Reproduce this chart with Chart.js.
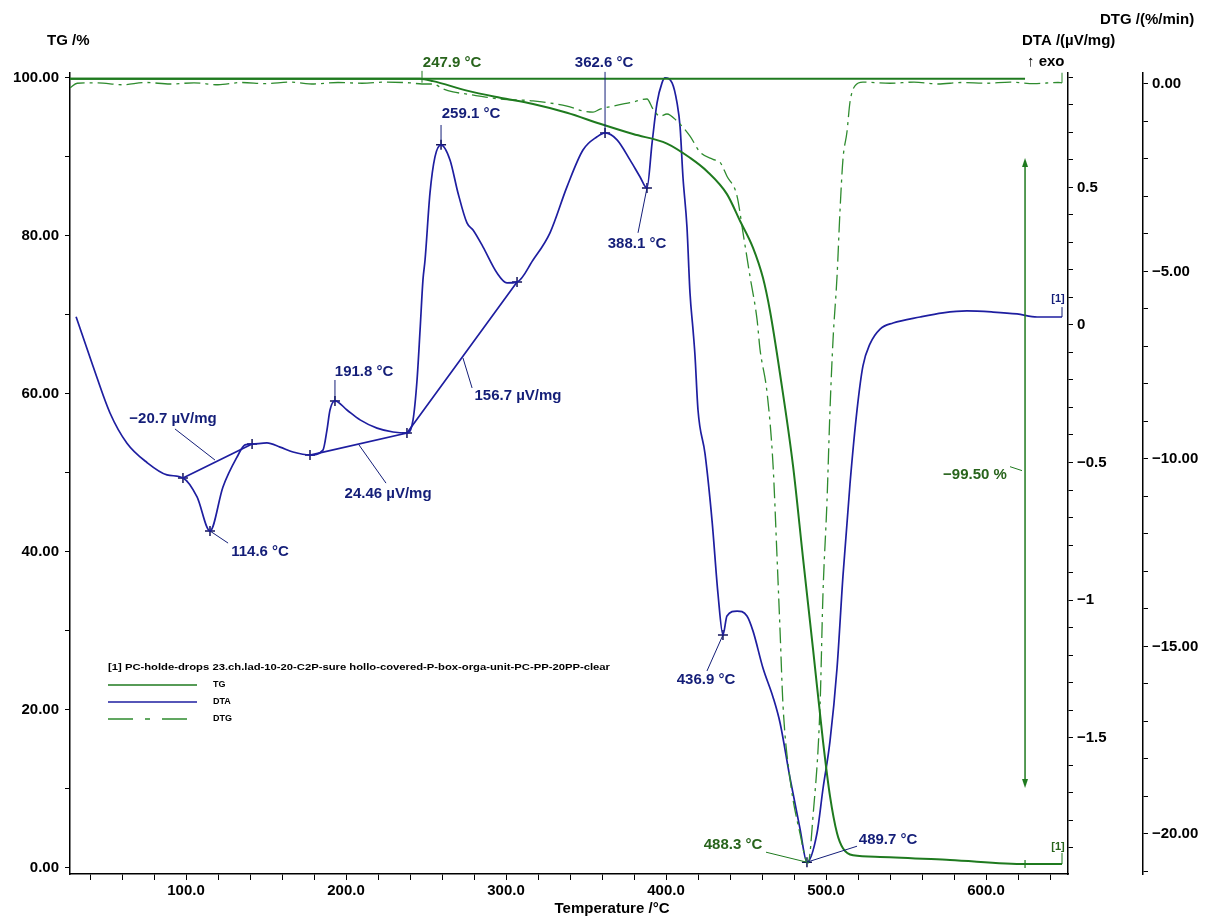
<!DOCTYPE html>
<html><head><meta charset="utf-8">
<script src="https://cdn.jsdelivr.net/npm/chart.js@4.4.1/dist/chart.umd.min.js"></script>
<style>html,body{margin:0;padding:0;background:#fff;}#wrap{width:1205px;height:919px;}</style>
</head><body><div id="wrap"><canvas id="c" width="1205" height="919"></canvas></div>
<script>
// ---------- data ----------
const tempTG = [27.5,246.3,254.4,275.6,296.3,316.9,338.1,358.8,379.4,400.6,415.0,425.6,438.1,446.3,454.4,460.6,465.0,471.3,479.4,485.6,491.9,498.1,502.5,506.9,510.6,516.9,533.8,577.5,625.0,647.5];
const massTG = [99.9,99.9,99.6,98.4,97.5,96.7,95.6,94.2,92.9,91.7,89.9,88.2,85.3,81.9,78.5,74.7,70.5,62.5,50.9,39.3,27.7,16.1,9.1,4.4,2.5,1.6,1.4,1.0,0.5,0.5];

const tempDTA = [31.3,41.9,52.5,63.1,75.6,88.1,98.1,106.9,115.0,123.1,131.9,136.9,141.3,150.6,158.8,166.9,177.5,185.6,188.1,190.0,193.1,200.6,208.8,219.4,229.4,238.1,241.9,244.4,246.3,248.1,249.4,252.5,255.6,259.4,265.0,270.0,275.6,279.4,285.6,294.4,300.6,306.9,316.9,327.5,338.1,348.1,356.9,361.9,369.4,377.5,383.8,388.1,391.3,394.4,397.5,399.4,403.8,406.9,408.8,410.6,413.1,415.0,416.9,418.1,420.0,424.4,428.8,432.5,435.6,438.1,444.4,450.6,454.4,460.6,466.9,471.3,477.5,483.8,488.1,494.4,498.1,502.5,506.9,510.6,515.0,519.4,523.1,527.5,533.8,541.9,558.8,573.1,588.1,604.4,619.4,631.9,641.9,647.5];
const heatDTA = [0.03,-0.15,-0.32,-0.43,-0.50,-0.545,-0.556,-0.625,-0.749,-0.589,-0.48,-0.436,-0.433,-0.429,-0.444,-0.462,-0.473,-0.455,-0.382,-0.309,-0.276,-0.309,-0.345,-0.375,-0.389,-0.393,-0.345,-0.20,-0.018,0.164,0.236,0.48,0.611,0.655,0.60,0.48,0.371,0.345,0.284,0.189,0.153,0.156,0.236,0.335,0.502,0.636,0.684,0.698,0.673,0.60,0.538,0.498,0.662,0.807,0.88,0.898,0.88,0.807,0.72,0.538,0.356,0.116,-0.018,-0.109,-0.309,-0.469,-0.713,-0.978,-1.127,-1.058,-1.04,-1.058,-1.113,-1.247,-1.353,-1.447,-1.647,-1.833,-1.953,-1.847,-1.687,-1.513,-1.247,-0.913,-0.578,-0.309,-0.149,-0.069,-0.015,0.007,0.029,0.044,0.051,0.047,0.04,0.029,0.029,0.029];

const tempDTG = [27.5,32,45,60,75,90,105,120,135,150,165,180,195,210,225,240,247.5,254.4,260.6,266.9,275.6,296.3,316.9,338.1,348.1,354.4,358.8,366.9,379.4,388.1,391.9,396.3,400.6,406.9,415.0,421.3,429.4,433.8,438.1,444.4,448.1,452.5,456.9,458.8,463.1,466.9,469.4,471.3,473.1,477.5,483.8,488.8,491.9,496.3,498.1,500.6,502.5,504.4,506.9,508.8,510.6,513.1,515.0,518.1,523.1,540,555,570,585,600,615,630,645,647.5];
const rateDTG = [-0.1,0.02,0.03,-0.02,0.04,0.0,0.03,-0.02,0.04,0.01,0.05,0.0,0.04,0.02,0.05,0.03,0.0,0.0,-0.13,-0.21,-0.27,-0.40,-0.45,-0.59,-0.72,-0.75,-0.67,-0.59,-0.48,-0.40,-0.67,-0.86,-0.80,-0.99,-1.39,-1.82,-2.01,-2.09,-2.46,-2.99,-3.96,-5.13,-6.28,-7.09,-8.21,-10.16,-12.62,-14.60,-16.55,-18.53,-20.0,-20.78,-19.52,-16.55,-13.61,-11.15,-8.69,-6.82,-5.13,-3.34,-2.01,-1.28,-0.48,-0.05,0.05,0.02,0.05,0.0,0.04,0.02,0.05,0.01,0.04,0.03];

// DTA construction baselines and peak markers
const baseT = [98.1,141.3,160,177.5,238.1,306.9];
const baseV = [-0.556,-0.433,null,-0.473,-0.393,0.156];
const markT = [98.1,115.0,141.3,177.5,193.1,238.1,259.4,306.9,361.9,388.1,435.6,488.1];
const markV = [-0.556,-0.749,-0.433,-0.473,-0.276,-0.393,0.655,0.156,0.698,0.498,-1.127,-1.953];

// mass-step reference line (TG 100 %) and step arrow
const stepLineT = [27.5,624.4];
const stepLineV = [99.9,99.9];
const stepArrowT = 624.4;
const stepArrowV = [89.5,10.5];

// tick labels
const xLabelVals = [100,200,300,400,500,600];
const tgLabelVals = [0,20,40,60,80,100];

// annotations: text, label centre [T,value], leader from [T,value] to [T,value]
const dtaNotes = [
  ['\u221220.7 \u00b5V/mg',[91.9,-0.342],[93.1,-0.378],[118.1,-0.491]],
  ['114.6 \u00b0C',[146.3,-0.825],[115.0,-0.749],[126.3,-0.793]],
  ['191.8 \u00b0C',[211.3,-0.171],[193.1,-0.276],[193.1,-0.20]],
  ['24.46 \u00b5V/mg',[226.3,-0.615],[208.1,-0.436],[225.0,-0.575]],
  ['156.7 \u00b5V/mg',[307.5,-0.258],[273.1,-0.12],[278.8,-0.229]],
  ['259.1 \u00b0C',[278.1,0.767],[259.4,0.655],[259.4,0.727]],
  ['362.6 \u00b0C',[361.3,0.953],[361.9,0.698],[361.9,0.92]],
  ['388.1 \u00b0C',[381.9,0.295],[388.1,0.498],[382.5,0.335]],
  ['436.9 \u00b0C',[425.0,-1.291],[435.6,-1.127],[425.6,-1.258]],
  ['489.7 \u00b0C',[538.8,-1.873],[488.1,-1.953],[519.4,-1.895]]
];
const tgNotes = [
  ['247.9 \u00b0C',[266.3,101.9],[247.5,100.9],[247.5,99.4]],
  ['488.3 \u00b0C',[441.9,2.9],[462.5,2.0],[487.5,0.76]],
  ['\u221299.50 %',[593.1,49.8],[615.0,50.8],[622.5,50.3]]
];
const legendTitle = '[1] PC-holde-drops 23.ch.lad-10-20-C2P-sure hollo-covered-P-box-orga-unit-PC-PP-20PP-clear';
const legendNames = ['TG','DTA','DTG'];

// ---------- styles ----------
const FONT = '"Liberation Sans", Arial, sans-serif';
const GREEN = '#1f7a1f', GREEN2 = '#2e8b2e', BLUE = '#1e1ea0', NAVY = '#141e78', GTEXT = '#28641c';
const DTG_DASH = [16,5,3,5];

const pts = (xs, ys) => xs.map((x,i)=>({x:x, y:ys[i]}));
const tickFont = {family:FONT, size:15, weight:'bold'};
function range(a,b,s){const r=[];for(let i=Math.round(a/s);i<=Math.round(b/s);i++)r.push(+(i*s).toFixed(4));return r;}
function minus(s){return s.replace('-','\u2212');}

const notePlugin = {
  id:'notes',
  afterDraw(chart){
    const {ctx} = chart;
    const sx = chart.scales.x, sTG = chart.scales.yTG, sDTA = chart.scales.yDTA, sDTG = chart.scales.yDTG;
    const ca = chart.chartArea;
    ctx.save();
    ctx.textAlign='center'; ctx.textBaseline='middle';
    function line(p, q, ys, col, w){
      ctx.strokeStyle=col; ctx.lineWidth=w; ctx.beginPath();
      ctx.moveTo(sx.getPixelForValue(p[0]), ys.getPixelForValue(p[1]));
      ctx.lineTo(sx.getPixelForValue(q[0]), ys.getPixelForValue(q[1])); ctx.stroke();
    }
    ctx.font = 'bold 15px '+FONT;
    dtaNotes.forEach(n=>{
      line(n[2],n[3],sDTA,NAVY,1);
      ctx.fillStyle=NAVY;
      ctx.fillText(n[0], sx.getPixelForValue(n[1][0]), sDTA.getPixelForValue(n[1][1]));
    });
    tgNotes.forEach(n=>{
      line(n[2],n[3],sTG,GREEN,1);
      ctx.fillStyle=GTEXT;
      ctx.fillText(n[0], sx.getPixelForValue(n[1][0]), sTG.getPixelForValue(n[1][1]));
    });
    // step arrow
    const ax = sx.getPixelForValue(stepArrowT);
    const a1 = sTG.getPixelForValue(stepArrowV[0]), a2 = sTG.getPixelForValue(stepArrowV[1]);
    ctx.strokeStyle=GREEN; ctx.fillStyle=GREEN; ctx.lineWidth=1.5;
    ctx.beginPath(); ctx.moveTo(ax,a1); ctx.lineTo(ax,a2); ctx.stroke();
    ctx.beginPath(); ctx.moveTo(ax,a1-3); ctx.lineTo(ax-3,a1+6); ctx.lineTo(ax+3,a1+6); ctx.closePath(); ctx.fill();
    ctx.beginPath(); ctx.moveTo(ax,a2+3); ctx.lineTo(ax-3,a2-6); ctx.lineTo(ax+3,a2-6); ctx.closePath(); ctx.fill();
    // end-of-curve tags
    const endT = tempDTA[tempDTA.length-1];
    ctx.font='bold 11px '+FONT;
    line([endT,heatDTA[heatDTA.length-1]],[endT,0.065],sDTA,NAVY,1);
    ctx.fillStyle=NAVY; ctx.fillText('[1]', sx.getPixelForValue(endT)-4, sDTA.getPixelForValue(0.095));
    line([endT,massTG[massTG.length-1]],[endT,1.9],sTG,GREEN,1);
    ctx.fillStyle=GTEXT; ctx.fillText('[1]', sx.getPixelForValue(endT)-4, sTG.getPixelForValue(2.6));
    line([endT,rateDTG[rateDTG.length-1]],[endT,0.3],sDTG,GREEN2,1);
    // cross on TG tail
    const cx = sx.getPixelForValue(stepArrowT), cy = sTG.getPixelForValue(0.5);
    ctx.strokeStyle=GREEN; ctx.lineWidth=1.2;
    ctx.beginPath(); ctx.moveTo(cx-4,cy); ctx.lineTo(cx+4,cy); ctx.moveTo(cx,cy-4); ctx.lineTo(cx,cy+4); ctx.stroke();

    // axis titles
    ctx.fillStyle='#000'; ctx.font='bold 15px '+FONT; ctx.textAlign='left';
    ctx.fillText('TG /%', 47, 41);
    ctx.fillText('DTA /(\u00b5V/mg)', 1022, 41);
    ctx.fillText('DTG /(%/min)', 1100, 20);
    ctx.fillText('\u2191 exo', 1027, 62);
    ctx.textAlign='center';
    ctx.fillText('Temperature /\u00b0C', 612, 909);

    // legend
    const lx = ca.left + 38, ly = ca.top + 595;
    ctx.textAlign='left';
    ctx.font='bold 9px '+FONT;
    const w = ctx.measureText(legendTitle).width;
    ctx.save(); ctx.translate(lx, ly); ctx.scale(502/w, 1); ctx.fillText(legendTitle, 0, 0); ctx.restore();
    const cols=[GREEN,BLUE,GREEN2], dashes=[[],[],[25,12,5,12]];
    legendNames.forEach((nm,i)=>{
      const yy = ly + 17*(i+1);
      ctx.strokeStyle=cols[i]; ctx.lineWidth=1.5; ctx.setLineDash(dashes[i]);
      ctx.beginPath(); ctx.moveTo(lx, yy); ctx.lineTo(lx+89, yy); ctx.stroke();
      ctx.setLineDash([]);
      ctx.fillStyle='#000'; ctx.fillText(nm, lx+105, yy);
    });
    ctx.restore();
  }
};

new Chart(document.getElementById('c'), {
  type:'line',
  data:{datasets:[
    {label:'step', data:pts(stepLineT,stepLineV), yAxisID:'yTG', borderColor:GREEN, borderWidth:2, pointRadius:0},
    {label:'TG', data:pts(tempTG,massTG), yAxisID:'yTG', borderColor:GREEN, borderWidth:2, pointRadius:0, cubicInterpolationMode:'monotone'},
    {label:'DTG', data:pts(tempDTG,rateDTG), yAxisID:'yDTG', borderColor:GREEN2, borderWidth:1.3, borderDash:DTG_DASH, pointRadius:0, cubicInterpolationMode:'monotone'},
    {label:'DTA', data:pts(tempDTA,heatDTA), yAxisID:'yDTA', borderColor:BLUE, borderWidth:1.7, pointRadius:0, cubicInterpolationMode:'monotone'},
    {label:'base', data:pts(baseT,baseV), yAxisID:'yDTA', borderColor:BLUE, borderWidth:1.7, pointRadius:0, spanGaps:false},
    {label:'marks', data:pts(markT,markV), yAxisID:'yDTA', showLine:false, pointStyle:'cross', pointRadius:5, pointBorderColor:'#14145a', pointBorderWidth:1.5, borderColor:'#14145a'}
  ]},
  options:{
    responsive:false, animation:false, devicePixelRatio:1,
    layout:{padding:{top:73,left:0,right:0,bottom:0}},
    plugins:{legend:{display:false}, tooltip:{enabled:false}},
    scales:{
      x:{type:'linear', position:'bottom', min:27.5, max:651.25,
        afterBuildTicks(s){ s.ticks = range(40,640,20).map(v=>({value:v})); },
        afterFit(s){ s.height = 45; },
        ticks:{autoSkip:false, maxRotation:0, minRotation:0, padding:2, color:'#000', font:tickFont,
          callback:(v)=> xLabelVals.includes(v) ? v.toFixed(1) : ''},
        grid:{drawOnChartArea:false, drawTicks:true, tickLength:6, tickColor:'#000', tickWidth:1},
        border:{display:true, color:'#000', width:1.5}},
      yTG:{type:'linear', position:'left', min:-0.76, max:100.63,
        afterBuildTicks(s){ s.ticks = range(0,100,10).map(v=>({value:v})); },
        afterFit(s){ s.width = 70; },
        ticks:{autoSkip:false, padding:6, color:'#000', font:tickFont,
          callback:(v)=> tgLabelVals.includes(v) ? v.toFixed(2) : ''},
        grid:{drawOnChartArea:false, tickLength:5, tickColor:'#000'},
        border:{display:true, color:'#000', width:1.5}},
      yDTA:{type:'linear', position:'right', weight:0, min:-1.996, max:0.916,
        afterBuildTicks(s){ s.ticks = range(-1.9,0.9,0.1).map(v=>({value:v})); },
        afterFit(s){ s.width = 75; },
        ticks:{autoSkip:false, padding:4, color:'#000', font:tickFont,
          callback:(v)=> Math.round(v*10)%5===0 ? minus(String(+v.toFixed(1))) : ''},
        grid:{drawOnChartArea:false, tickLength:5, tickColor:'#000'},
        border:{display:true, color:'#000', width:1.5}},
      yDTG:{type:'linear', position:'right', weight:1, min:-21.07, max:0.293,
        afterBuildTicks(s){ s.ticks = range(-21,0,1).map(v=>({value:v})); },
        afterFit(s){ s.width = 62; },
        ticks:{autoSkip:false, padding:4, color:'#000', font:tickFont,
          callback:(v)=> Math.round(v)%5===0 ? minus(v.toFixed(2)) : ''},
        grid:{drawOnChartArea:false, tickLength:5, tickColor:'#000'},
        border:{display:true, color:'#000', width:1.5}}
    }
  },
  plugins:[notePlugin]
});
</script></body></html>
